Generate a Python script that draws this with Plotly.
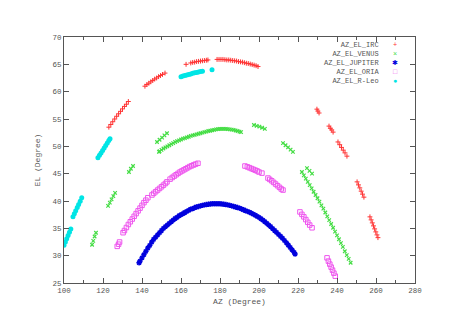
import plotly.graph_objects as go

# ---- data ----
irc_az = [123, 124, 125, 126, 127, 128, 129, 130, 131, 132, 133,
          141.5, 142.5, 143.5, 144.5, 145.5, 146.5, 147.5, 148.5, 149.5, 150.5, 151.8,
          162.6, 165, 166, 167, 168, 169, 170, 171, 172, 173, 173.8,
          178.5, 179.5, 180.5, 181.5, 182.5, 183.5, 184.5, 185.5, 186.5, 187.5, 188.5,
          189.5, 190.5, 191.5, 192.5, 193.5, 194.5, 195.5, 196.5, 197.5, 198.5, 199.5,
          229.7, 230.2, 230.8,
          235.9, 236.6, 237.3, 238,
          240.5, 241.4, 242.3, 243.2, 244.1, 245.1,
          250.3, 251, 251.7, 252.4, 253.1, 253.8,
          256.9, 257.5, 258.1, 258.7, 259.3, 259.9, 260.5, 261]
irc_el = [53.5, 54.0, 54.5, 55.0, 55.5, 55.95, 56.4, 56.85, 57.3, 57.7, 58.2,
          61.0, 61.3, 61.55, 61.8, 62.05, 62.3, 62.5, 62.75, 62.95, 63.15, 63.4,
          65.0, 65.25, 65.35, 65.4, 65.5, 65.55, 65.6, 65.65, 65.7, 65.75, 65.8,
          65.9, 65.9, 65.9, 65.9, 65.85, 65.8, 65.8, 65.75, 65.7, 65.65, 65.6,
          65.5, 65.45, 65.4, 65.3, 65.2, 65.15, 65.05, 64.95, 64.85, 64.75, 64.6,
          56.8, 56.45, 56.1,
          53.7, 53.3, 53.0, 52.6,
          50.8, 50.3, 49.8, 49.3, 48.8, 48.2,
          43.5, 42.95, 42.4, 41.8, 41.25, 40.7,
          37.1, 36.55, 36.0, 35.45, 34.9, 34.35, 33.8, 33.3]

venus_az = [114.4, 115, 115.7, 116.4,
            122.6, 123.5, 124.4, 125.3, 126.2,
            133.3, 134.3, 135.4,
            147.7, 149, 150.3, 151.5, 152.8,
            148.7, 149, 150, 151, 152, 153, 154, 155, 156, 157, 158, 159, 160, 161, 162,
            163, 164, 165, 166, 167, 168, 169, 170, 171, 172, 173, 174, 175, 176, 177,
            178, 179, 180, 181, 182, 183, 184, 185, 186, 187, 188, 189, 190, 190.8,
            197.4, 198.8, 200.2, 201.6, 203,
            212.3, 213.6, 214.9, 216.2, 217.4,
            224.6, 225.9, 227.2,
            222, 223, 224, 225, 226, 227, 228, 229, 230, 231, 232, 233, 234, 235, 236,
            237, 238, 239, 240, 241, 242, 243, 244, 245, 246, 247]
venus_el = [32.0, 32.7, 33.5, 34.2,
            39.1, 39.7, 40.3, 40.9, 41.5,
            45.3, 45.9, 46.4,
            50.8, 51.2, 51.6, 52.0, 52.4,
            49.0, 49.1, 49.35, 49.6, 49.8, 50.0, 50.2, 50.4, 50.6, 50.8, 50.95, 51.1, 51.25,
            51.4, 51.5, 51.65, 51.75, 51.9, 52.0, 52.1, 52.2, 52.3, 52.4, 52.5, 52.6, 52.7,
            52.8, 52.85, 52.95, 53.0, 53.1, 53.15, 53.2, 53.2, 53.2, 53.2, 53.15, 53.1,
            53.05, 53.0, 52.9, 52.8, 52.7, 52.6,
            53.9, 53.75, 53.6, 53.4, 53.2,
            50.6, 50.2, 49.8, 49.4, 49.0,
            46.0, 45.5, 45.0,
            45.3, 44.7, 44.1, 43.5, 42.9, 42.3, 41.7, 41.1, 40.5, 39.9, 39.2, 38.6, 37.9,
            37.2, 36.5, 35.8, 35.1, 34.4, 33.7, 33.0, 32.3, 31.6, 30.8, 30.1, 29.4, 28.7]

jupiter_az = [138.5, 139, 140, 141, 142, 143, 144, 145, 146, 147, 148, 149, 150, 151,
              152, 153, 154, 155, 156, 157, 158, 159, 160, 161, 162, 163, 164, 165, 166,
              167, 168, 169, 170, 171, 172, 173, 174, 175, 176, 177, 178, 179, 180, 181,
              182, 183, 184, 185, 186, 187, 188, 189, 190, 191, 192, 193, 194, 195, 196,
              197, 198, 199, 200, 201, 202, 203, 204, 205, 206, 207, 208, 209, 210, 211,
              212, 213, 214, 215, 216, 217, 218, 218.5]
jupiter_el = [28.7, 29.0, 29.6, 30.2, 30.8, 31.4, 31.9, 32.5, 33.0, 33.4, 33.8, 34.2, 34.6,
              35.0, 35.3, 35.6, 35.9, 36.2, 36.5, 36.8, 37.0, 37.3, 37.5, 37.7, 37.9, 38.1,
              38.3, 38.5, 38.6, 38.8, 38.9, 39.0, 39.1, 39.2, 39.3, 39.35, 39.4, 39.45, 39.5,
              39.5, 39.5, 39.5, 39.5, 39.45, 39.4, 39.35, 39.3, 39.2, 39.1, 39.0, 38.9, 38.8,
              38.7, 38.55, 38.4, 38.25, 38.1, 37.95, 37.8, 37.6, 37.4, 37.2, 37.0, 36.75,
              36.5, 36.2, 35.9, 35.6, 35.3, 34.95, 34.6, 34.25, 33.9, 33.55, 33.2, 32.8,
              32.4, 31.95, 31.5, 31.05, 30.6, 30.3]

oria_az = [127.3, 128.0, 128.5,
           130.3, 131, 132, 133, 134, 135, 136, 137, 138, 139, 140, 141, 142, 143,
           145.1, 146, 147, 148, 149, 150, 151, 152, 152.8,
           154.4, 155.5, 156.5, 157.5, 158.5, 159.5, 160.5, 161.5, 162.5, 163.5, 164.5,
           165.5, 166.5, 167.5, 168.7,
           192.8, 194, 195, 196, 197, 198, 199, 200, 201.5,
           204.6, 205.5, 206.5, 207.5, 208.5, 209.5, 210.5, 211.4, 212.3,
           221, 222, 223, 224, 225, 226, 227.2,
           234.9, 235.6, 236.3, 237, 237.7, 238.4, 239.1]
oria_el = [31.7, 32.1, 32.5,
           34.2, 34.6, 35.15, 35.7, 36.2, 36.7, 37.2, 37.7, 38.2, 38.7, 39.2, 39.7, 40.15, 40.6,
           41.1, 41.4, 41.7, 42.0, 42.3, 42.6, 42.9, 43.2, 43.5,
           44.0, 44.3, 44.55, 44.8, 45.05, 45.3, 45.5, 45.7, 45.9, 46.1, 46.3,
           46.45, 46.6, 46.75, 46.9,
           46.4, 46.25, 46.1, 45.95, 45.8, 45.65, 45.5, 45.3, 45.1,
           44.2, 43.95, 43.7, 43.4, 43.1, 42.8, 42.5, 42.2, 42.0,
           38.0, 37.55, 37.1, 36.6, 36.1, 35.6, 35.1,
           29.6, 29.0, 28.45, 27.9, 27.35, 26.8, 26.25]

rleo_az = [100, 100.7, 101.4, 102.1, 102.8, 103.5,
           104.6, 105.3, 106, 106.8, 107.5, 108.3, 109.1,
           117.4, 118.2, 119, 119.8, 120.6, 121.4, 122.2, 123, 123.6,
           160, 161, 162, 163, 164, 165, 166, 167, 168, 169, 170, 171,
           175.9]
rleo_el = [31.9, 32.5, 33.1, 33.7, 34.3, 34.9,
           37.1, 37.65, 38.2, 38.8, 39.35, 39.95, 40.6,
           47.9, 48.35, 48.8, 49.25, 49.7, 50.15, 50.6, 51.05, 51.4,
           62.75, 62.85, 62.95, 63.05, 63.15, 63.25, 63.35, 63.45, 63.5, 63.6, 63.7, 63.75,
           64.0]

series_names = ["AZ_EL_IRC", "AZ_EL_VENUS", "AZ_EL_JUPITER", "AZ_EL_ORIA", "AZ_EL_R-Leo"]
series_colors = ["#ff3333", "#44dd44", "#0000dd", "#ee55ee", "#00e5e5"]
legend_glyphs = ["+", "×", "✱", "□", "●"]

FONT = "Liberation Mono"
GREY = "#555555"

fig = go.Figure()
fig.add_trace(go.Scatter(x=irc_az, y=irc_el, mode="markers", name=series_names[0],
                         marker=dict(symbol="cross-thin", size=3.5, color=series_colors[0],
                                     line=dict(width=1, color=series_colors[0]))))
fig.add_trace(go.Scatter(x=venus_az, y=venus_el, mode="markers", name=series_names[1],
                         marker=dict(symbol="x-thin", size=3.5, color=series_colors[1],
                                     line=dict(width=1.2, color=series_colors[1]))))
fig.add_trace(go.Scatter(x=jupiter_az, y=jupiter_el, mode="markers", name=series_names[2],
                         marker=dict(symbol="asterisk-open", size=4.5, color=series_colors[2],
                                     line=dict(width=1.4, color=series_colors[2]))))
fig.add_trace(go.Scatter(x=oria_az, y=oria_el, mode="markers", name=series_names[3],
                         marker=dict(symbol="square-open", size=4.5, color=series_colors[3],
                                     line=dict(width=1, color=series_colors[3]))))
fig.add_trace(go.Scatter(x=rleo_az, y=rleo_el, mode="markers", name=series_names[4],
                         marker=dict(symbol="circle", size=5, color=series_colors[4],
                                     line=dict(width=0))))

axis_common = dict(showgrid=False, zeroline=False, showline=True, linecolor=GREY,
                   linewidth=1, mirror="allticks", ticks="inside", ticklen=5,
                   tickcolor=GREY, tickfont=dict(family=FONT, size=7.5, color=GREY))

fig.update_xaxes(range=[100, 280], dtick=20, tick0=100,
                 minor=dict(dtick=10, ticks="inside", ticklen=3, tickcolor=GREY),
                 title=dict(text="AZ (Degree)", font=dict(family=FONT, size=8, color=GREY),
                            standoff=4),
                 **axis_common)
fig.update_yaxes(range=[25, 70], dtick=5, tick0=25,
                 title=dict(text="EL (Degree)", font=dict(family=FONT, size=8, color=GREY),
                            standoff=10),
                 **axis_common)

# key in the gnuplot style: right-aligned names followed by the point glyph
key_names = "<br>".join(series_names)
key_glyphs = "<br>".join(f"<span style='color:{c}'>{g}</span>"
                         for c, g in zip(series_colors, legend_glyphs))
fig.add_annotation(xref="paper", yref="paper", x=0.902, y=0.895, text=key_names,
                   showarrow=False, xanchor="right", yanchor="middle", align="right",
                   font=dict(family=FONT, size=7, color=GREY))
fig.add_annotation(xref="paper", yref="paper", x=0.943, y=0.895, text=key_glyphs,
                   showarrow=False, xanchor="center", yanchor="middle", align="center",
                   font=dict(family=FONT, size=7, color=GREY))

fig.update_layout(width=468, height=330,
                  margin=dict(l=56, r=61, t=29, b=55),
                  paper_bgcolor="white", plot_bgcolor="white",
                  font=dict(family=FONT, size=8, color=GREY),
                  showlegend=False)

fig.write_html("out.html")
